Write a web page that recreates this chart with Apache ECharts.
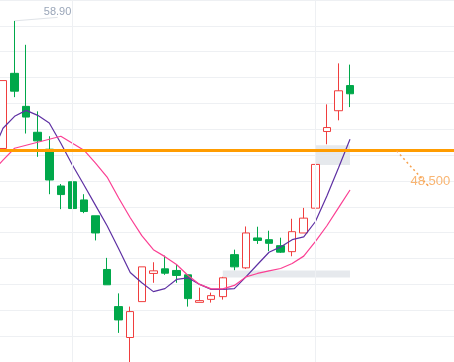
<!DOCTYPE html>
<html>
<head>
<meta charset="utf-8">
<script src="https://cdn.jsdelivr.net/npm/echarts@6/dist/echarts.min.js"></script>
<style>
html,body{margin:0;padding:0;background:#fff;}
#chart{width:454px;height:362px;}
</style>
</head>
<body>
<div id="chart"></div>
<script>
// candles, in bar order (bar 0 is the first visible one)
const opens  = [48.66,54.69,52.04,49.96,48.60,45.65,45.99,44.53,43.26,38.95,35.97,33.49,36.37,38.63,39.00,38.87,38.52,36.31,36.55,36.77,40.14,39.08,41.48,41.34,40.86,40.38,41.88,43.87,50.02,51.69,53.71];
const closes = [54.11,53.26,51.18,49.27,46.13,44.96,43.84,43.60,41.88,37.72,34.90,35.57,39.16,38.84,38.65,38.47,36.61,36.45,36.85,38.28,39.16,41.88,41.28,41.05,40.34,41.98,43.07,47.38,50.34,53.29,53.05];
const lows   = [48.44,52.78,49.86,47.99,44.99,43.79,43.31,43.47,41.28,37.72,33.86,31.50,36.37,37.88,38.52,37.88,35.97,36.31,36.29,36.53,38.89,38.99,41.00,40.42,40.28,40.01,41.88,42.94,49.00,50.92,51.98];
const highs  = [54.11,58.90,56.98,51.64,49.64,45.81,46.13,44.99,43.26,39.88,37.03,35.97,39.16,39.53,40.06,39.32,38.52,37.49,37.09,38.36,40.54,42.40,42.38,42.06,41.50,43.02,43.89,47.38,52.20,55.49,55.39];

// moving averages, starting one bar before bar 0 (off-screen)
const maShort = [48.12,50.28,51.24,51.72,51.32,50.70,49.08,47.33,45.73,44.09,42.46,40.62,38.71,37.88,37.17,37.41,38.15,38.28,37.75,37.35,37.35,37.41,38.36,39.35,40.33,40.76,41.34,41.56,42.78,44.85,47.09,49.40];
const maLong  = [46.69,47.73,48.68,48.92,49.16,49.40,49.64,49.08,48.52,47.49,46.37,44.69,43.10,41.66,40.54,39.98,39.35,38.47,37.75,37.39,37.39,37.67,38.35,38.63,38.83,39.03,39.43,40.02,41.18,42.46,43.89,45.33];

const priceLine = 48.5;
const maxHigh = 58.90;
const maxHighBar = 1;
const priceLabelBar = 34;
const verticalBars = [6, 27];
const zoneA = {from:27, to:30, top:48.92, bottom:47.33};
const zoneB = {from:19, to:30, top:38.87, bottom:38.31};

const candleData = opens.map((o,k)=>[k, o, closes[k], lows[k], highs[k]]);
const maShortData = maShort.map((v,i)=>[i-1, v]);
const maLongData  = maLong.map((v,i)=>[i-1, v]);

const chart = echarts.init(document.getElementById('chart'), null, {renderer:'canvas'});
const gridColor = '#eef0f3';
chart.setOption({
  animation:false,
  backgroundColor:'#ffffff',
  grid:{left:0, right:0, top:-1, bottom:-1, containLabel:false},
  xAxis:{
    type:'value', min:-0.2594, max:38.99,
    axisLine:{show:false}, axisTick:{show:false}, axisLabel:{show:false}, splitLine:{show:false}
  },
  yAxis:[
    {type:'value', min:0, max:14, interval:1, axisLine:{show:false}, axisTick:{show:false}, axisLabel:{show:false},
     splitLine:{show:true, lineStyle:{color:gridColor, width:1}}},
    {type:'value', min:31.5234, max:60.576, axisLine:{show:false}, axisTick:{show:false}, axisLabel:{show:false},
     splitLine:{show:false}}
  ],
  series:[
    {type:'line', yAxisIndex:1, data:[], z:1, silent:true,
     markLine:{silent:true, symbol:'none', label:{show:false}, animation:false,
       lineStyle:{color:gridColor, width:1, type:'solid'},
       data:verticalBars.map(b=>({xAxis:b}))}},
    {
      type:'candlestick', yAxisIndex:1, data:candleData, barWidth:8, z:2,
      itemStyle:{color:'#ffffff', color0:'#00a84a', borderColor:'#f03e3e', borderColor0:'#00a84a', borderWidth:1},
      markArea:{silent:true, itemStyle:{color:'#e6e9ed'},
        data:[
          [{xAxis:zoneA.from, yAxis:zoneA.top},{xAxis:zoneA.to, yAxis:zoneA.bottom}],
          [{xAxis:zoneB.from, yAxis:zoneB.top},{xAxis:zoneB.to, yAxis:zoneB.bottom}]
        ]},
      markLine:{silent:true, symbol:'none', label:{show:false},
        lineStyle:{color:'#ff9c00', width:3, type:'solid'},
        data:[{yAxis:priceLine}]}
    },
    {type:'line', yAxisIndex:1, data:maShortData, symbol:'none', smooth:false,
     lineStyle:{color:'#5e30a3', width:1.2}, z:3},
    {type:'line', yAxisIndex:1, data:maLongData, symbol:'none', smooth:false,
     lineStyle:{color:'#fb3f93', width:1.2}, z:3},
    {type:'scatter', yAxisIndex:1, symbolSize:1, itemStyle:{color:'rgba(0,0,0,0)'}, z:5, silent:true,
     data:[
       {value:[maxHighBar, maxHigh],
        label:{show:true, position:'inside', offset:[43,-9], formatter:maxHigh.toFixed(2),
               color:'#7f8fa6', fontSize:11, fontFamily:'Arial'},
        labelLine:{show:true, lineStyle:{color:'#dfe3e8', width:1}}},
       {value:[priceLabelBar, priceLine],
        label:{show:true, position:'inside', offset:[34,31], formatter:priceLine.toFixed(3),
               color:'#f7a24f', fontSize:13, fontFamily:'Arial'},
        labelLine:{show:true, lineStyle:{color:'#f7a24f', width:1.5, type:[2,3]}}}
     ]}
  ]
});
</script>
</body>
</html>
